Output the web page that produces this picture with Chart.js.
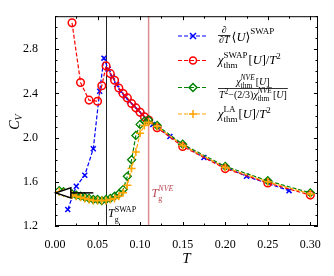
<!DOCTYPE html>
<html>
<head>
<meta charset="utf-8">
<script src="https://cdn.jsdelivr.net/npm/chart.js@4.4.0/dist/chart.umd.min.js"></script>
<style>
  html, body { margin: 0; padding: 0; background: #fff; }
  #wrap { width: 334px; height: 276px; }
</style>
</head>
<body>
<div id="wrap"><canvas id="cvChart" width="334" height="276"></canvas></div>
<script>
// d<U>/dT (SWAP), at mid temperatures
const blueT = [0.015, 0.025, 0.035, 0.045, 0.0525, 0.0575, 0.0625, 0.0675, 0.0725, 0.0775, 0.0825, 0.0875, 0.0925, 0.0975, 0.1025, 0.1075, 0.115, 0.135, 0.175, 0.225, 0.275];
const blueC = [1.35, 1.56, 1.66, 1.90, 2.42, 2.72, 2.62, 2.55, 2.48, 2.42, 2.37, 2.33, 2.29, 2.25, 2.21, 2.17, 2.12, 2.01, 1.82, 1.65, 1.52];

// chi_thm^SWAP / T^2
const redT = [0.02, 0.03, 0.04, 0.05, 0.055, 0.06, 0.065, 0.07, 0.075, 0.08, 0.085, 0.09, 0.095, 0.1, 0.105, 0.11, 0.12, 0.15, 0.2, 0.25, 0.3];
const redC = [3.04, 2.50, 2.34, 2.33, 2.47, 2.65, 2.58, 2.52, 2.45, 2.40, 2.36, 2.31, 2.27, 2.23, 2.19, 2.16, 2.09, 1.92, 1.72, 1.59, 1.48];

// NVE and LA share the same temperatures
const nveT = [0.005, 0.01, 0.015, 0.02, 0.025, 0.03, 0.035, 0.04, 0.045, 0.05, 0.055, 0.06, 0.065, 0.07, 0.075, 0.08, 0.085, 0.09, 0.095, 0.1, 0.105, 0.11, 0.12, 0.15, 0.2, 0.25, 0.3];
const greenC = [1.52, 1.51, 1.50, 1.49, 1.48, 1.47, 1.46, 1.45, 1.44, 1.44, 1.43, 1.44, 1.45, 1.47, 1.49, 1.53, 1.65, 1.80, 2.02, 2.12, 2.15, 2.16, 2.11, 1.94, 1.74, 1.61, 1.50];
const orangeC = [1.51, 1.50, 1.49, 1.48, 1.47, 1.46, 1.45, 1.44, 1.43, 1.43, 1.43, 1.43, 1.44, 1.45, 1.47, 1.50, 1.57, 1.72, 1.87, 2.04, 2.11, 2.14, 2.10, 1.93, 1.73, 1.60, 1.49];

const xTicks = [0, 0.05, 0.1, 0.15, 0.2, 0.25, 0.3];
const yTicks = [1.2, 1.6, 2.0, 2.4, 2.8];
const tgSwap = 0.06;
const tgNve = 0.11;
const arrowFrom = [0.045, 1.5];
const arrowTo = [0.001, 1.5];

const SERIF = '"Liberation Serif", "DejaVu Serif", serif';
function fnt(size, italic) { return (italic ? 'italic ' : '') + size + 'px ' + SERIF; }

function pts(xs, ys) { return xs.map((x, i) => ({ x: x, y: ys[i] })); }

// draws (or just measures) a row of text pieces, returns the end x
function run(ctx, x, y, pieces, draw) {
    pieces.forEach(p => {
        if (p.sup !== undefined || p.sub !== undefined) {
            let w = 0;
            if (p.sup) {
                ctx.font = fnt(p.fs, p.si);
                if (draw) ctx.fillText(p.sup, x, y + p.supDy);
                w = Math.max(w, ctx.measureText(p.sup).width);
            }
            if (p.sub) {
                ctx.font = fnt(p.fs, false);
                if (draw) ctx.fillText(p.sub, x, y + p.subDy);
                w = Math.max(w, ctx.measureText(p.sub).width);
            }
            x += w + 1;
        } else {
            ctx.font = fnt(p.f, p.i);
            if (draw) ctx.fillText(p.t, x + (p.dx || 0), y + (p.dy || 0));
            x += ctx.measureText(p.t).width + (p.dx || 0);
        }
    });
    return x;
}

function marker(ctx, style, x, y, color) {
    ctx.save();
    ctx.strokeStyle = color;
    ctx.lineWidth = 1.5;
    ctx.setLineDash([]);
    ctx.beginPath();
    if (style === 'x') {
        ctx.moveTo(x - 3, y - 3); ctx.lineTo(x + 3, y + 3);
        ctx.moveTo(x - 3, y + 3); ctx.lineTo(x + 3, y - 3);
    } else if (style === 'o') {
        ctx.arc(x, y, 3.5, 0, Math.PI * 2);
    } else if (style === 'd') {
        ctx.moveTo(x, y - 4); ctx.lineTo(x + 4, y); ctx.lineTo(x, y + 4); ctx.lineTo(x - 4, y); ctx.closePath();
    } else {
        ctx.moveTo(x - 4, y); ctx.lineTo(x + 4, y);
        ctx.moveTo(x, y - 4); ctx.lineTo(x, y + 4);
    }
    ctx.stroke();
    ctx.restore();
}

const decor = {
    id: 'decor',
    beforeDatasetsDraw(chart) {
        const { ctx, chartArea: a, scales: { x, y } } = chart;
        ctx.save();
        ctx.lineWidth = 1;
        ctx.strokeStyle = '#222';
        let px = Math.round(x.getPixelForValue(tgSwap)) + 0.5;
        ctx.beginPath(); ctx.moveTo(px, a.top); ctx.lineTo(px, a.bottom); ctx.stroke();
        ctx.strokeStyle = 'rgba(215,120,125,0.85)';
        ctx.lineWidth = 1.5;
        px = x.getPixelForValue(tgNve);
        ctx.beginPath(); ctx.moveTo(px, a.top); ctx.lineTo(px, a.bottom); ctx.stroke();
        ctx.restore();
    },
    afterDatasetsDraw(chart) {
        const { ctx, chartArea: a, scales: { x, y } } = chart;
        ctx.save();

        // arrow towards T = 0
        const ax0 = x.getPixelForValue(arrowFrom[0]), ay = y.getPixelForValue(arrowFrom[1]);
        const ax1 = x.getPixelForValue(arrowTo[0]);
        ctx.strokeStyle = '#000';
        ctx.lineWidth = 1.5;
        ctx.beginPath(); ctx.moveTo(ax0, ay); ctx.lineTo(ax1 + 15, ay); ctx.stroke();
        ctx.beginPath();
        ctx.moveTo(ax1, ay); ctx.lineTo(ax1 + 15, ay - 5); ctx.lineTo(ax1 + 15, ay + 5); ctx.closePath();
        ctx.fillStyle = '#fff'; ctx.fill(); ctx.stroke();

        // frame
        ctx.lineWidth = 1;
        ctx.strokeStyle = '#000';
        ctx.strokeRect(a.left + 0.5, a.top + 0.5, a.right - a.left - 1, a.bottom - a.top - 1);

        // inward ticks on all four sides
        ctx.beginPath();
        for (let i = 0; i <= 12; i++) {
            const v = i * 0.025;
            const p = Math.round(x.getPixelForValue(v)) + 0.5;
            const len = i % 2 === 0 ? 4 : 2.5;
            ctx.moveTo(p, a.bottom); ctx.lineTo(p, a.bottom - len);
            ctx.moveTo(p, a.top); ctx.lineTo(p, a.top + len);
        }
        for (let i = 0; i <= 19; i++) {
            const v = 1.2 + i * 0.1;
            if (v > 3.1) break;
            const p = Math.round(y.getPixelForValue(v)) + 0.5;
            const len = i % 4 === 0 ? 4 : 2.5;
            ctx.moveTo(a.left, p); ctx.lineTo(a.left + len, p);
            ctx.moveTo(a.right, p); ctx.lineTo(a.right - len, p);
        }
        ctx.stroke();

        ctx.fillStyle = '#000';
        ctx.textBaseline = 'alphabetic';
        ctx.textAlign = 'left';

        // T_g labels
        let tx = x.getPixelForValue(tgSwap) + 2;
        run(ctx, tx, 217, [{ t: 'T', f: 12, i: true }, { sup: 'SWAP', sub: 'g', fs: 8, si: false, supDy: -5.5, subDy: 5 }], true);
        ctx.fillStyle = 'rgb(185,70,80)';
        tx = x.getPixelForValue(tgNve) + 3;
        run(ctx, tx, 197, [{ t: 'T', f: 12, i: true }, { sup: 'NVE', sub: 'g', fs: 8, si: true, supDy: -6, subDy: 3.5 }], true);

        // axis titles
        ctx.fillStyle = '#000';
        ctx.font = fnt(15, true);
        ctx.textAlign = 'center';
        ctx.fillText('T', (a.left + a.right) / 2, 263);
        ctx.save();
        ctx.translate(19, (a.top + a.bottom) / 2 + 1);
        ctx.rotate(-Math.PI / 2);
        ctx.textAlign = 'left';
        const cw = run(ctx, 0, 0, [{ t: 'C', f: 14, i: true }, { t: 'V', f: 10, i: true, dy: 3 }], false);
        run(ctx, -cw / 2, 0, [{ t: 'C', f: 14, i: true }, { t: 'V', f: 10, i: true, dy: 3 }], true);
        ctx.restore();

        // legend
        ctx.textAlign = 'left';
        const lx0 = 178, lx1 = 208, mx = 193, tx0 = 218;
        const rows = [
            { y: 36, color: 'blue', m: 'x' },
            { y: 60.5, color: 'red', m: 'o' },
            { y: 87.5, color: 'green', m: 'd' },
            { y: 114, color: 'orange', m: '+' }
        ];
        rows.forEach(r => {
            ctx.save();
            ctx.strokeStyle = r.color;
            ctx.lineWidth = 1.2;
            ctx.setLineDash([4, 2]);
            ctx.beginPath(); ctx.moveTo(lx0, r.y); ctx.lineTo(lx1, r.y); ctx.stroke();
            ctx.restore();
            marker(ctx, r.m, mx, r.y, r.color);
        });
        ctx.fillStyle = '#000';

        // row 1: d/dT <U>^SWAP
        ctx.font = fnt(10, false);
        const numW = ctx.measureText('\u2202').width;
        const denW = run(ctx, 0, 0, [{ t: '\u2202', f: 10 }, { t: 'T', f: 10, i: true }], false);
        const fw = Math.max(numW, denW) + 2;
        run(ctx, tx0 + (fw - numW) / 2, 33, [{ t: '\u2202', f: 10 }], true);
        ctx.fillRect(tx0, 35, fw, 0.8);
        run(ctx, tx0 + (fw - denW) / 2, 43, [{ t: '\u2202', f: 10 }, { t: 'T', f: 10, i: true }], true);
        run(ctx, tx0 + fw + 1, 40.5, [
            { t: '\u27E8', f: 12.5 }, { t: 'U', f: 12.5, i: true }, { t: '\u27E9', f: 12.5 },
            { t: 'SWAP', f: 9, dy: -6.5 }
        ], true);

        // row 2
        run(ctx, tx0, 64, [
            { t: '\u03C7', f: 12.5, i: true },
            { sup: 'SWAP', sub: 'thm', fs: 9, si: false, supDy: -6, subDy: 4 },
            { t: '[', f: 12.5 }, { t: 'U', f: 12.5, i: true }, { t: ']/', f: 12.5 },
            { t: 'T', f: 12.5, i: true }, { t: '2', f: 9, dy: -5.5 }
        ], true);

        // row 3: fraction
        const num = [
            { t: '\u03C7', f: 10, i: true },
            { sup: 'NVE', sub: 'thm', fs: 7.5, si: true, supDy: -5, subDy: 3 },
            { t: '[', f: 10 }, { t: 'U', f: 10, i: true }, { t: ']', f: 10 }
        ];
        const den = [
            { t: 'T', f: 10, i: true }, { t: '2', f: 7.5, dy: -4 },
            { t: '\u2212(2/3)', f: 10 },
            { t: '\u03C7', f: 10, i: true },
            { sup: 'NVE', sub: 'thm', fs: 7.5, si: true, supDy: -5, subDy: 3 },
            { t: '[', f: 10 }, { t: 'U', f: 10, i: true }, { t: ']', f: 10 }
        ];
        const nW = run(ctx, 0, 0, num, false);
        const dW = run(ctx, 0, 0, den, false);
        const W = Math.max(nW, dW) + 2;
        run(ctx, tx0 + (W - nW) / 2, 84.5, num, true);
        ctx.fillRect(tx0, 88, W, 0.8);
        run(ctx, tx0 + (W - dW) / 2, 98, den, true);

        // row 4
        run(ctx, tx0, 118, [
            { t: '\u03C7', f: 12.5, i: true },
            { sup: 'LA', sub: 'thm', fs: 9, si: false, supDy: -6, subDy: 4 },
            { t: '[', f: 12.5 }, { t: 'U', f: 12.5, i: true }, { t: ']/', f: 12.5 },
            { t: 'T', f: 12.5, i: true }, { t: '2', f: 9, dy: -5.5 }
        ], true);

        ctx.restore();
    }
};

const dashed = [4, 2];
new Chart(document.getElementById('cvChart'), {
    type: 'scatter',
    data: {
        datasets: [
            {
                label: 'dU/dT SWAP', data: pts(blueT, blueC), showLine: true, order: 3,
                borderColor: 'blue', backgroundColor: 'blue', borderWidth: 1.2, borderDash: dashed,
                pointStyle: 'crossRot', pointRadius: 3.5, pointBorderWidth: 1.5, pointBorderColor: 'blue'
            },
            {
                label: 'chi SWAP', data: pts(redT, redC), showLine: true, order: 2,
                borderColor: 'red', backgroundColor: 'rgba(0,0,0,0)', borderWidth: 1.2, borderDash: dashed,
                pointStyle: 'circle', pointRadius: 3.8, pointBorderWidth: 1.5, pointBorderColor: 'red',
                pointBackgroundColor: 'rgba(0,0,0,0)'
            },
            {
                label: 'chi NVE', data: pts(nveT, greenC), showLine: true, order: 1,
                borderColor: 'green', backgroundColor: 'rgba(0,0,0,0)', borderWidth: 1.2, borderDash: dashed,
                pointStyle: 'rectRot', pointRadius: 4, pointBorderWidth: 1.3, pointBorderColor: 'green',
                pointBackgroundColor: 'rgba(0,0,0,0)'
            },
            {
                label: 'chi LA', data: pts(nveT, orangeC), showLine: true, order: 0,
                borderColor: 'orange', backgroundColor: 'orange', borderWidth: 1.2, borderDash: dashed,
                pointStyle: 'cross', pointRadius: 4, pointBorderWidth: 1.5, pointBorderColor: 'orange'
            }
        ]
    },
    options: {
        responsive: false,
        devicePixelRatio: 1,
        animation: false,
        layout: { padding: { top: 15, right: 16, left: 0, bottom: 0 } },
        plugins: { legend: { display: false }, tooltip: { enabled: false } },
        scales: {
            x: {
                type: 'linear', min: 0, max: 0.309,
                grid: { display: false }, border: { display: false },
                afterBuildTicks: s => { s.ticks = xTicks.map(v => ({ value: v })); },
                afterFit: s => { s.height = 50; },
                ticks: {
                    padding: 4, color: '#000', maxRotation: 0, autoSkip: false,
                    font: { family: SERIF, size: 12 },
                    callback: v => Number(v).toFixed(2)
                }
            },
            y: {
                type: 'linear', min: 1.2, max: 3.1,
                grid: { display: false }, border: { display: false },
                afterBuildTicks: s => { s.ticks = yTicks.map(v => ({ value: v })); },
                afterFit: s => { s.width = 55; },
                ticks: {
                    padding: 9, color: '#000', autoSkip: false,
                    font: { family: SERIF, size: 12 },
                    callback: v => Number(v).toFixed(1)
                }
            }
        }
    },
    plugins: [decor]
});
</script>
</body>
</html>
